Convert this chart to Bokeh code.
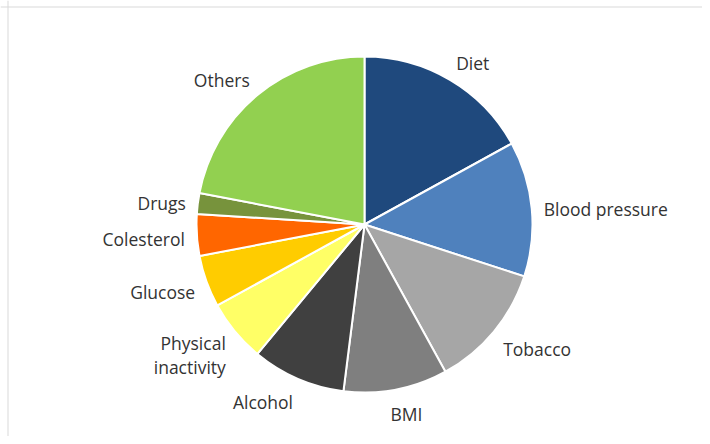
import math
from bokeh.plotting import figure
from bokeh.models import ColumnDataSource, Span
from bokeh.core.properties import value
from bokeh.embed import file_html
from bokeh.resources import INLINE

categories = ["Diet", "Blood pressure", "Tobacco", "BMI", "Alcohol",
              "Physical\ninactivity", "Glucose", "Colesterol", "Drugs", "Others"]
shares = [17, 13, 12, 10, 9, 6, 5, 4, 2, 22]
colors = ["#1F497D", "#4F81BD", "#A6A6A6", "#7F7F7F", "#404040",
          "#FFFF66", "#FFCC00", "#FF6600", "#77933C", "#92D050"]

W, H = 702, 436
CX, CY, R = 364, 212, 168
GAP = 12          # label distance from the rim
LINE_H = 24       # label line height in px
FONT_PX = 17.5

total = float(sum(shares))
starts, ends, lx, ly, aligns = [], [], [], [], []
cum = 0.0
for s, name in zip(shares, categories):
    a0 = cum / total * 2 * math.pi
    cum += s
    a1 = cum / total * 2 * math.pi
    starts.append(math.pi / 2 - a0)
    ends.append(math.pi / 2 - a1)
    mid = (a0 + a1) / 2
    sx, cy = math.sin(mid), math.cos(mid)
    lines = name.split("\n")
    nlines = len(lines)
    approx_w = 0.55 * FONT_PX * max(len(t) for t in lines)
    x = CX + (R + GAP) * sx
    if sx > 0.3:
        align = "left"
    elif sx < -0.3:
        align = "right"
    else:
        align = "center"
        x += approx_w / 2 * max(-1.0, min(1.0, 3 * sx))
    lx.append(x)
    ly.append(CY + (R + GAP) * cy + (LINE_H * nlines / 2) * 0.875 * cy - 2.6)
    aligns.append(align)

src = ColumnDataSource(dict(cat=categories, val=shares, color=colors,
                            start=starts, end=ends, lx=lx, ly=ly, align=aligns))

p = figure(width=W, height=H, x_range=(0, W), y_range=(0, H),
           output_backend="svg", toolbar_location=None, min_border=0)
p.axis.visible = False
p.grid.visible = False
p.outline_line_color = None
p.background_fill_color = "white"

p.add_layout(Span(location=7.5, dimension="height", line_color="#D9D9D9", line_width=1))
p.add_layout(Span(location=H - 6.5, dimension="width", line_color="#D9D9D9", line_width=1))

p.wedge(x=CX, y=CY, radius=R, start_angle="start", end_angle="end",
        direction="clock", fill_color="color", line_color="white",
        line_width=2, source=src)

p.text(x="lx", y="ly", text="cat", text_align="align", text_baseline="middle",
       text_font=value("Open Sans"), text_font_size=f"{FONT_PX}px",
       text_color="#333333", text_line_height=1.0, source=src)

open("out.html", "w").write(file_html(p, INLINE))
